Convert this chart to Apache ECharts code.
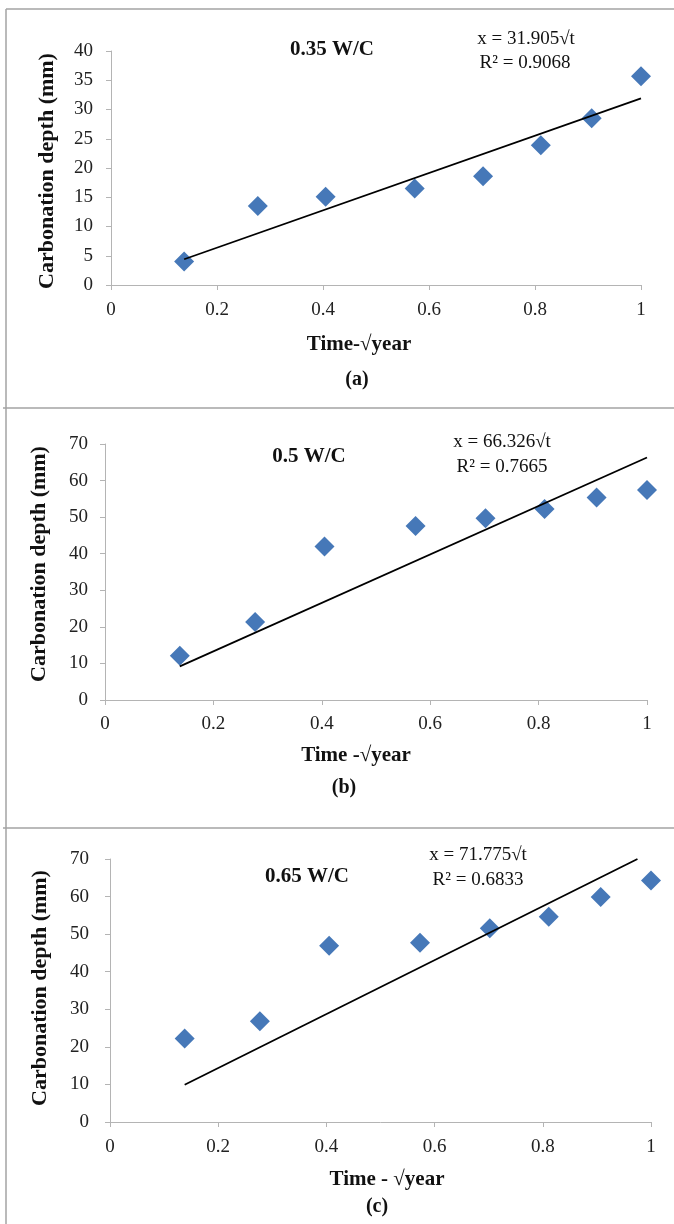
<!DOCTYPE html>
<html>
<head>
<meta charset="utf-8">
<script src="https://cdn.jsdelivr.net/npm/echarts@6/dist/echarts.min.js"></script>
<style>
    html, body { margin: 0; padding: 0; background: #fff; }
    #main { width: 674px; height: 1224px; }
</style>
</head>
<body>
<div id="main"></div>
<script>
// x values: square root of exposure time in years
const time_sqrt_year = [0.138, 0.277, 0.405, 0.573, 0.702, 0.811, 0.907, 1];

// measured carbonation depth (mm)
const depth_035 = [4.0, 13.5, 15.1, 16.5, 18.6, 23.9, 28.5, 35.7];
const depth_050 = [12.1, 21.3, 42.0, 47.6, 49.7, 52.2, 55.4, 57.4];
const depth_065 = [22.2, 26.8, 46.9, 47.7, 51.6, 54.6, 59.9, 64.3];

// trend line end points as drawn
const trend_035 = [[0.138, 4.4], [1, 31.9]];
const trend_050 = [[0.138, 9.2], [1, 66.3]];
const trend_065 = [[0.138, 9.9], [0.975, 70]];

const panel_titles = ['0.35 W/C', '0.5 W/C', '0.65 W/C'];
const equations = ['x = 31.905√t', 'x = 66.326√t', 'x = 71.775√t'];
const r_squared = ['R² = 0.9068', 'R² = 0.7665', 'R² = 0.6833'];
const x_titles = ['Time-√year', 'Time -√year', 'Time - √year'];
const captions = ['(a)', '(b)', '(c)'];
const y_max = [40, 70, 70];
const y_step = [5, 10, 10];

const serif = '"Liberation Serif", "DejaVu Serif", serif';
const axis_grey = '#b4b4b4';
const frame_grey = '#a3a3a3';
const marker_blue = '#4678b8';

// pixel layout of the three panels
const grids = [
    {left: 111, right: 33, top: 51, bottom: 939},
    {left: 105, right: 27, top: 444, bottom: 524},
    {left: 110, right: 23, top: 859, bottom: 102}
];
const y_label_margin = [18, 17, 21];
const x_label_margin = [16, 15, 16];

// text positions [x, y]
const title_pos = [[332, 50], [309, 457], [307, 877]];
const eq_pos = [[526, 39], [502, 442], [478, 855]];
const r2_pos = [[525, 63], [502, 467], [478, 880]];
const ytitle_pos = [[47, 171], [39, 564], [40, 988]];
const xtitle_pos = [[359, 345], [356, 756], [387, 1180]];
const caption_pos = [[357, 380], [344, 788], [377, 1207]];

let pair = function (xs, ys) {
    return xs.map(function (x, i) {
        return [x, ys[i]];
    });
};

let text_el = function (pos, text, size, bold, rotate) {
    return {
        type: 'text',
        x: pos[0],
        y: pos[1],
        rotation: rotate ? Math.PI / 2 : 0,
        z: 10,
        style: {
            text: text,
            fill: '#111',
            font: (bold ? 'bold ' : '') + size + 'px ' + serif,
            align: 'center',
            verticalAlign: 'middle',
            textAlign: 'center',
            textVerticalAlign: 'middle'
        }
    };
};

let line_el = function (x1, y1, x2, y2) {
    return {
        type: 'line',
        shape: {x1: x1, y1: y1, x2: x2, y2: y2},
        style: {stroke: frame_grey, lineWidth: 1.5}
    };
};

const depths = [depth_035, depth_050, depth_065];
const trends = [trend_035, trend_050, trend_065];

let x_axes = [];
let y_axes = [];
let series = [];
let graphic = [
    line_el(6, 9, 674, 9),
    line_el(6, 9, 6, 1224),
    line_el(3, 408, 674, 408),
    line_el(3, 828, 674, 828)
];

for (let i = 0; i < 3; i++) {
    x_axes.push({
        type: 'value',
        gridIndex: i,
        min: 0,
        max: 1,
        interval: 0.2,
        splitLine: {show: false},
        axisLine: {lineStyle: {color: axis_grey, width: 1}},
        axisTick: {show: true, length: 5, lineStyle: {color: axis_grey}},
        axisLabel: {
            color: '#222',
            fontFamily: serif,
            fontSize: 19,
            margin: x_label_margin[i]
        }
    });
    y_axes.push({
        type: 'value',
        gridIndex: i,
        min: 0,
        max: y_max[i],
        interval: y_step[i],
        splitLine: {show: false},
        axisLine: {show: true, lineStyle: {color: axis_grey, width: 1}},
        axisTick: {show: true, length: 5, lineStyle: {color: axis_grey}},
        axisLabel: {
            color: '#222',
            fontFamily: serif,
            fontSize: 19,
            margin: y_label_margin[i]
        }
    });
    series.push({
        type: 'scatter',
        xAxisIndex: i,
        yAxisIndex: i,
        symbol: 'path://M0,-1L1,0L0,1L-1,0Z',
        symbolSize: 20,
        itemStyle: {color: marker_blue, opacity: 1},
        data: pair(time_sqrt_year, depths[i]),
        z: 2
    });
    series.push({
        type: 'line',
        xAxisIndex: i,
        yAxisIndex: i,
        showSymbol: false,
        symbol: 'none',
        lineStyle: {color: '#000', width: 1.8},
        data: trends[i],
        z: 3
    });

    graphic.push(text_el(title_pos[i], panel_titles[i], 21, true));
    graphic.push(text_el(eq_pos[i], equations[i], 19, false));
    graphic.push(text_el(r2_pos[i], r_squared[i], 19, false));
    graphic.push(text_el(ytitle_pos[i], 'Carbonation depth (mm)', 22, true, true));
    graphic.push(text_el(xtitle_pos[i], x_titles[i], 21, true));
    graphic.push(text_el(caption_pos[i], captions[i], 20, true));
}

let chart = echarts.init(document.getElementById('main'));
chart.setOption({
    backgroundColor: '#fff',
    animation: false,
    grid: grids,
    xAxis: x_axes,
    yAxis: y_axes,
    series: series,
    graphic: graphic
});
</script>
</body>
</html>
